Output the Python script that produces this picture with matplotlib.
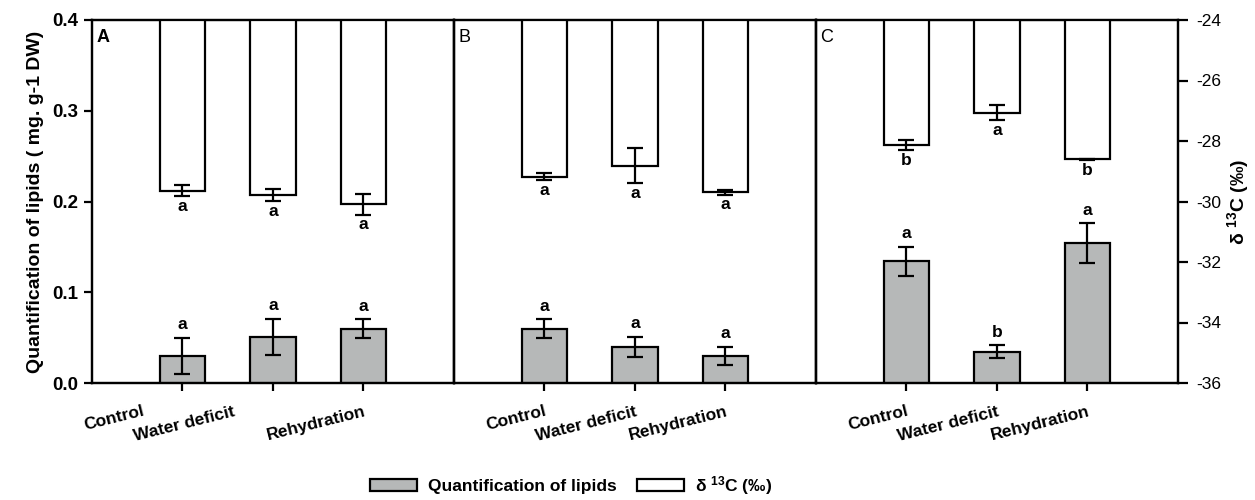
import matplotlib.pyplot as plt
import matplotlib.transforms as mtransforms
from matplotlib.patches import Patch
import numpy as np

plt.rcParams['font.family'] = ['Liberation Sans', 'DejaVu Sans']
plt.rcParams['mathtext.fontset'] = 'custom'
plt.rcParams['mathtext.rm'] = 'Liberation Sans:bold'
plt.rcParams['mathtext.bf'] = 'Liberation Sans:bold'
plt.rcParams['mathtext.default'] = 'bf'
plt.rcParams['axes.unicode_minus'] = False

# --- data ---
conditions = ['Control', 'Water deficit', 'Rehydration']
panels = ['A', 'B', 'C']

# lipids (mg g-1 DW), left axis
lipids_A = [0.030, 0.051, 0.060]
lipids_B = [0.060, 0.040, 0.030]
lipids_C = [0.134, 0.0345, 0.154]
lipids_err_A = [0.020, 0.020, 0.010]
lipids_err_B = [0.010, 0.011, 0.010]
lipids_err_C = [0.016, 0.007, 0.022]
lipids_letters_A = ['a', 'a', 'a']
lipids_letters_B = ['a', 'a', 'a']
lipids_letters_C = ['a', 'b', 'a']

# delta 13C (permil), right axis
d13c_A = [-29.64, -29.79, -30.09]
d13c_B = [-29.18, -28.82, -29.70]
d13c_C = [-28.14, -27.06, -28.61]
d13c_err_A = [0.19, 0.20, 0.34]
d13c_err_B = [0.12, 0.58, 0.07]
d13c_err_C = [0.16, 0.25, 0.03]
d13c_letters_A = ['a', 'a', 'a']
d13c_letters_B = ['a', 'a', 'a']
d13c_letters_C = ['b', 'a', 'b']

lipids = [lipids_A, lipids_B, lipids_C]
lipids_err = [lipids_err_A, lipids_err_B, lipids_err_C]
lipids_letters = [lipids_letters_A, lipids_letters_B, lipids_letters_C]
d13c = [d13c_A, d13c_B, d13c_C]
d13c_err = [d13c_err_A, d13c_err_B, d13c_err_C]
d13c_letters = [d13c_letters_A, d13c_letters_B, d13c_letters_C]

GRAY = '#b6b8b8'
D13C_TOP = -24
LW = 1.6

fig, axes = plt.subplots(1, 3, figsize=(12.55, 5), dpi=100)
fig.subplots_adjust(left=0.0733, right=0.9386, top=0.96, bottom=0.234, wspace=0)

x = np.arange(1, 4)
err_kw = dict(fmt='none', ecolor='black', elinewidth=LW, capsize=6, capthick=LW, zorder=5)

for i, ax in enumerate(axes):
    ax2 = ax.twinx()
    ax.set_xlim(0, 4)
    ax.set_ylim(0, 0.4)
    ax2.set_ylim(-36, -24)

    # grey bars (lipids)
    ax.bar(x, lipids[i], width=0.5, color=GRAY, edgecolor='black', linewidth=LW, zorder=3)
    ax.errorbar(x, lipids[i], yerr=lipids_err[i], **err_kw)
    for xi, v, e, lab in zip(x, lipids[i], lipids_err[i], lipids_letters[i]):
        ax.annotate(lab, (xi, v + e), xytext=(0, 4), textcoords='offset points',
                    ha='center', va='bottom', fontsize=12.5, fontweight='bold')

    # white bars (delta 13C) hanging from the top
    vals = np.array(d13c[i])
    ax2.bar(x, vals - D13C_TOP, bottom=D13C_TOP, width=0.5, color='white',
            edgecolor='black', linewidth=LW, zorder=3)
    ax2.errorbar(x, vals, yerr=d13c_err[i], **err_kw)
    for xi, v, e, lab in zip(x, vals, d13c_err[i], d13c_letters[i]):
        ax2.annotate(lab, (xi, v - e), xytext=(0, -2), textcoords='offset points',
                     ha='center', va='top', fontsize=12.5, fontweight='bold')

    for a in (ax, ax2):
        for s in a.spines.values():
            s.set_linewidth(LW)

    ax.set_xticks(x)
    ax.set_xticklabels(conditions, rotation=14, ha='right', va='top',
                       rotation_mode='anchor', fontsize=12.5, fontweight='bold')
    ax.tick_params(axis='x', direction='out', length=6, width=LW, pad=9)

    if i == 0:
        ax.set_yticks([0, 0.1, 0.2, 0.3, 0.4])
        ax.set_yticklabels(['0.0', '0.1', '0.2', '0.3', '0.4'], fontsize=13.5, fontweight='bold')
        ax.tick_params(axis='y', direction='out', length=6, width=LW, pad=4)
        ax.set_ylabel('Quantification of lipids ( mg. g-1 DW)', fontsize=14, fontweight='bold',
                      labelpad=6)
        # first two labels sit further left in the original
        for lbl, dx in zip(ax.get_xticklabels(), [-40, -40, 0]):
            lbl.set_transform(lbl.get_transform() +
                              mtransforms.ScaledTranslation(dx / 100, 0, fig.dpi_scale_trans))
    else:
        ax.set_yticks([])
    if i == 2:
        ax2.set_yticks(np.arange(-36, -23, 2))
        ax2.tick_params(axis='y', direction='out', length=7, width=LW, pad=6, labelsize=12.5)
        ax2.set_ylabel(r'δ $^{13}$C (‰)', fontsize=14, fontweight='bold', labelpad=3)
    else:
        ax2.set_yticks([])

    ax.text(0.012, 0.975, panels[i], transform=ax.transAxes, ha='left', va='top',
            fontsize=13, fontweight='bold' if i == 0 else 'normal')

handles = [Patch(facecolor=GRAY, edgecolor='black', linewidth=LW, label='Quantification of lipids'),
           Patch(facecolor='white', edgecolor='black', linewidth=LW, label=r'δ $^{13}$C (‰)')]
fig.legend(handles=handles, loc='lower center', bbox_to_anchor=(0.455, -0.025), ncol=2,
           frameon=False, handlelength=2.7, handleheight=0.7, columnspacing=1.2,
           handletextpad=0.6, prop={'size': 12.5, 'weight': 'bold'})

fig.savefig('out.png', dpi=100)
